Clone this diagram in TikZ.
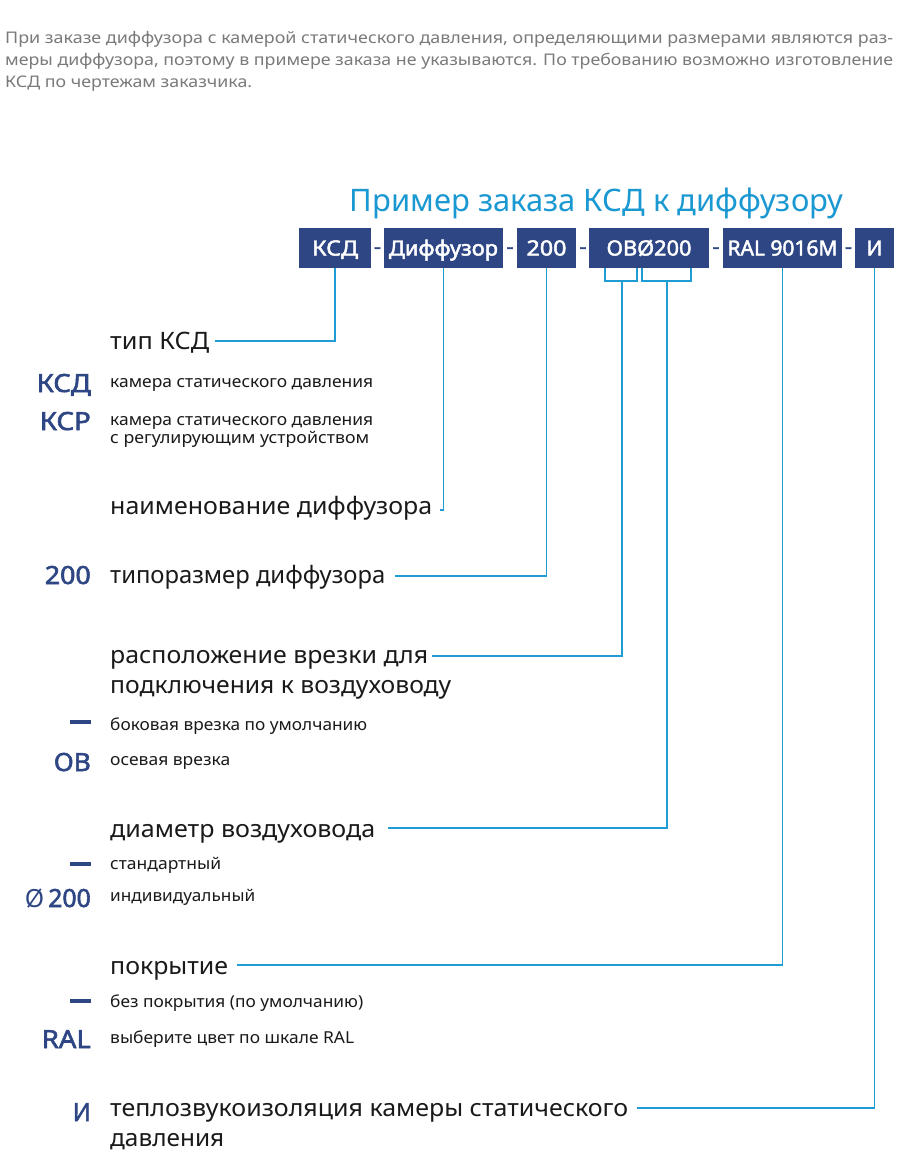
\documentclass[tikz,border=0pt]{standalone}
\usepackage{fontspec}
\setmainfont{Noto Sans}
\newfontfamily\bff{Noto Sans}[FakeBold=2.2]
\usepackage{graphicx}
\definecolor{navy}{HTML}{2E4784}
\definecolor{lcyan}{HTML}{1E9CD3}
\definecolor{tcyan}{HTML}{1A98D2}
\definecolor{ink}{HTML}{1A1A1A}
\definecolor{greyt}{HTML}{7A7A7A}
\newcommand\fw[2]{\resizebox{#1}{\height}{#2}}
\tikzset{
  box/.style={fill=navy, text=white, minimum height=40pt, inner sep=0pt,
    text height=15pt, text depth=0pt, font=\fontsize{21}{21}\bff},
  hyph/.style={anchor=base, inner sep=0pt, text=navy, font=\fontsize{22}{22}\bff},
  lbl/.style={anchor=mid west, inner sep=0pt, text=ink, font=\fontsize{24}{28}\selectfont},
  desc/.style={anchor=mid west, inner sep=0pt, text=ink, font=\fontsize{16.5}{19}\selectfont},
  code/.style={anchor=base east, inner sep=0pt, text=navy, font=\fontsize{25}{25}\bff},
  cdash/.style={fill=navy, inner sep=0pt, minimum width=21pt, minimum height=4pt, anchor=east},
  para/.style={anchor=base west, inner sep=0pt, text=greyt, font=\fontsize{16}{20}\selectfont},
  link/.style={draw=lcyan, line width=1.5pt}
}
\begin{document}
\begin{tikzpicture}[x=1pt, y=-1pt]
\useasboundingbox[fill=white] (0,0) rectangle (900,1154);

% intro paragraph
\node[para] (p1) at (5,43) {\fw{888pt}{При заказе диффузора с камерой статического давления, определяющими размерами являются раз-}};
\node[para] (p2) at (5,65) {\fw{888pt}{меры диффузора, поэтому в примере заказа не указываются. По требованию возможно изготовление}};
\node[para] (p3) at (5,87) {\fw{247pt}{КСД по чертежам заказчика.}};

% title
\node[anchor=base, inner sep=0pt, text=tcyan, font=\fontsize{31}{31}\selectfont] (title) at (596.5,211) {\fw{493pt}{Пример заказа КСД к диффузору}};

% order code boxes
\node[box, minimum width=72pt]  (b1) at (335,248)   {\fw{46pt}{КСД}};
\node[box, minimum width=119pt] (b2) at (443.5,248) {\fw{109pt}{Диффузор}};
\node[box, minimum width=59pt]  (b3) at (546.5,248) {\fw{40pt}{200}};
\node[box, minimum width=120pt] (b4) at (649,248)   {\fw{85pt}{ОВØ200}};
\node[box, minimum width=119pt] (b5) at (782.5,248) {\fw{110pt}{RAL 9016M}};
\node[box, minimum width=39pt]  (b6) at (874.5,248) {\fw{16pt}{И}};
\node[hyph] (h1) at (377.5,254) {-};
\node[hyph] (h2) at (510,254) {-};
\node[hyph] (h3) at (583,254) {-};
\node[hyph] (h4) at (716,254) {-};
\node[hyph] (h5) at (848.5,254) {-};

% labels
\node[lbl] (l1) at (110,347) {\fw{99pt}{тип КСД}};
\node[desc] (d1) at (110,385) {\fw{263pt}{камера статического давления}};
\node[desc] (d2) at (110,423) {\fw{263pt}{камера статического давления}};
\node[desc] (d3) at (110,441) {\fw{259pt}{с регулирующим устройством}};
\node[code] (c1) at (91,392) {\fw{54pt}{КСД}};
\node[code] (c2) at (91,430) {\fw{51pt}{КСР}};

\node[lbl] (l2) at (110,512) {\fw{322pt}{наименование диффузора}};

\node[lbl] (l3) at (110,581) {\fw{275pt}{типоразмер диффузора}};
\node[code] (c3) at (91,584) {\fw{46pt}{200}};

\node[lbl] (l4) at (110,661) {\fw{318pt}{расположение врезки для}};
\node[lbl] (l4b) at (110,691) {\fw{341pt}{подключения к воздуховоду}};
\node[cdash] (c4) at (91,722) {};
\node[desc] (d4) at (110,728) {\fw{257pt}{боковая врезка по умолчанию}};
\node[code] (c5) at (91,771) {\fw{37pt}{ОВ}};
\node[desc] (d5) at (110,763) {\fw{120pt}{осевая врезка}};

\node[lbl] (l5) at (110,835) {\fw{265pt}{диаметр воздуховода}};
\node[cdash] (c6) at (91,864) {};
\node[desc] (d6) at (110,867) {\fw{111pt}{стандартный}};
\node[code] (c7) at (91,907) {\fw{66pt}{{\normalfont Ø}\,200}};
\node[desc] (d7) at (110,899) {\fw{145pt}{индивидуальный}};

\node[lbl] (l6) at (110,972) {\fw{118pt}{покрытие}};
\node[cdash] (c8) at (91,1001) {};
\node[desc] (d8) at (110,1005) {\fw{253pt}{без покрытия (по умолчанию)}};
\node[code] (c9) at (91,1048) {\fw{49pt}{RAL}};
\node[desc] (d9) at (110,1041) {\fw{244pt}{выберите цвет по шкале RAL}};

\node[lbl] (l7) at (110,1114) {\fw{518pt}{теплозвукоизоляция камеры статического}};
\node[lbl] (l7b) at (110,1144) {\fw{114pt}{давления}};
\node[code] (c10) at (91,1121) {\fw{18pt}{И}};

% connector ends
\coordinate (e1) at (215,341);
\coordinate (e2) at (440,510);
\coordinate (e3) at (395,576);
\coordinate (e4) at (432,656);
\coordinate (e5) at (388,828);
\coordinate (e6) at (237,965);
\coordinate (e7) at (637,1108);

% brackets under OBØ200
\coordinate (k1) at (605,268);
\coordinate (k2) at (637,268);
\coordinate (k3) at (642,268);
\coordinate (k4) at (691,268);
\coordinate (s4) at (622,281);
\coordinate (s5) at (667,281);
\draw[link] (k1) -- ++(0,13) -| (k2);
\draw[link] (k3) -- ++(0,13) -| (k4);

\draw[link] (b1.south) |- (e1);
\draw[link] (b2.south) |- (e2);
\draw[link] (b3.south) |- (e3);
\draw[link] (s4) |- (e4);
\draw[link] (s5) |- (e5);
\draw[link] (b5.south) |- (e6);
\draw[link] (b6.south) |- (e7);
\end{tikzpicture}
\end{document}
